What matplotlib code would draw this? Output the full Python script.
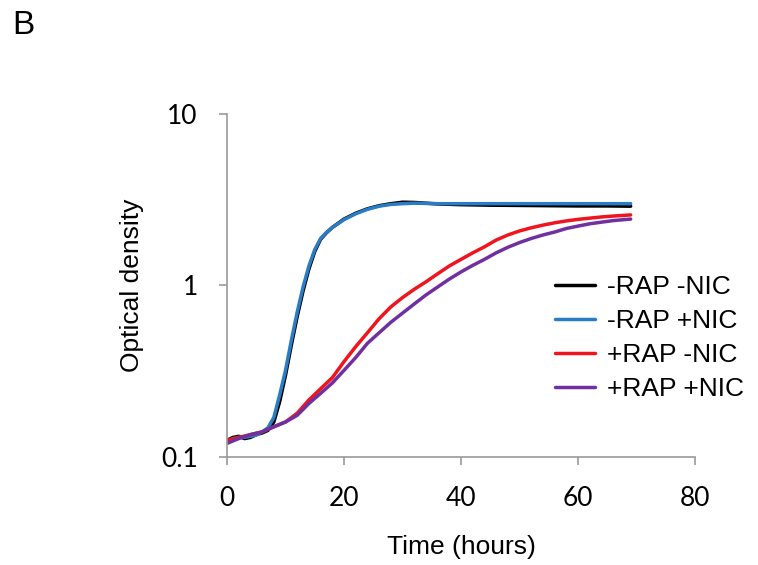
import matplotlib
matplotlib.use("Agg")
import matplotlib.pyplot as plt
from matplotlib.ticker import FixedLocator, NullLocator, FixedFormatter

# ---- data ----
t_fast = [0, 1, 2, 3, 4, 5, 6, 7, 8, 9, 10, 11, 12, 13, 14, 15, 16, 17, 18,
          20, 22, 24, 26, 28, 30, 32, 34, 36, 40, 45, 50, 55, 60, 65, 69]
od_rap_minus_nic_minus = [0.125, 0.13, 0.132, 0.128, 0.13, 0.135, 0.138, 0.143, 0.16, 0.21,
                          0.30, 0.45, 0.66, 0.93, 1.25, 1.58, 1.86, 2.03, 2.18,
                          2.44, 2.64, 2.8, 2.92, 3.0, 3.06, 3.05, 3.02, 2.99, 2.96,
                          2.94, 2.93, 2.92, 2.91, 2.91, 2.9]
od_rap_minus_nic_plus = [0.122, 0.128, 0.13, 0.13, 0.132, 0.134, 0.14, 0.148, 0.17, 0.23,
                         0.32, 0.48, 0.70, 0.98, 1.30, 1.62, 1.88, 2.04, 2.18,
                         2.42, 2.62, 2.78, 2.9, 2.97, 3.0, 3.02, 3.01, 3.0, 3.0,
                         3.0, 3.0, 3.0, 3.0, 3.0, 3.0]

t_slow = [0, 2, 4, 6, 8, 10, 12, 14, 16, 18, 20, 22, 24, 26, 28, 30, 32, 34,
          36, 38, 40, 42, 44, 46, 48, 50, 52, 54, 56, 58, 60, 62, 64, 66, 69]
od_rap_plus_nic_minus = [0.125, 0.13, 0.135, 0.14, 0.15, 0.16, 0.18, 0.215, 0.25, 0.29,
                         0.36, 0.44, 0.53, 0.64, 0.75, 0.85, 0.95, 1.05, 1.17, 1.3,
                         1.42, 1.55, 1.68, 1.84, 1.97, 2.08, 2.17, 2.25, 2.32, 2.38,
                         2.43, 2.47, 2.51, 2.54, 2.58]
od_rap_plus_nic_plus = [0.12, 0.128, 0.135, 0.14, 0.15, 0.16, 0.175, 0.205, 0.235, 0.27,
                        0.32, 0.38, 0.46, 0.53, 0.61, 0.69, 0.78, 0.88, 0.98, 1.09,
                        1.2, 1.31, 1.42, 1.55, 1.67, 1.78, 1.88, 1.97, 2.05, 2.15,
                        2.22, 2.29, 2.34, 2.39, 2.44]

labels = ["-RAP -NIC", "-RAP +NIC", "+RAP -NIC", "+RAP +NIC"]
colors = ["#000000", "#2a7dc4", "#f0141e", "#7030a0"]

x_ticks = [0, 20, 40, 60, 80]
y_ticks = [0.1, 1, 10]
y_tick_labels = ["0.1", "1", "10"]

fig = plt.figure(figsize=(7.58, 5.65), dpi=100)
ax = fig.add_axes([0.2995, 0.1912, 0.6174, 0.607])

series = [(t_fast, od_rap_minus_nic_minus), (t_fast, od_rap_minus_nic_plus),
          (t_slow, od_rap_plus_nic_minus), (t_slow, od_rap_plus_nic_plus)]
for (t, y), lab, c in zip(series, labels, colors):
    ax.plot(t, y, color=c, lw=2.5, label=lab, solid_capstyle="round")

ax.set_yscale("log")
ax.set_xlim(0, 80)
ax.set_ylim(0.1, 10)
ax.xaxis.set_major_locator(FixedLocator(x_ticks))
ax.yaxis.set_major_locator(FixedLocator(y_ticks))
ax.yaxis.set_major_formatter(FixedFormatter(y_tick_labels))
ax.yaxis.set_minor_locator(NullLocator())

for s in ["top", "right"]:
    ax.spines[s].set_visible(False)
for s in ["left", "bottom"]:
    ax.spines[s].set_color("#9a9a9a")
    ax.spines[s].set_linewidth(1.2)

ax.tick_params(axis="both", which="major", direction="out", length=6, width=1.2,
               color="#9a9a9a", labelsize=19, pad=15)
for lab in ax.get_xticklabels() + ax.get_yticklabels():
    lab.set_family("Lato")

ax.set_xlabel("Time (hours)", fontsize=19, family="Liberation Sans", labelpad=17)
ax.set_ylabel("Optical density", fontsize=19, family="Liberation Sans", labelpad=12)

leg = ax.legend(loc="upper left", bbox_to_anchor=(0.69, 0.545), frameon=False,
                prop={"family": "Liberation Sans", "size": 19},
                handlelength=1.5, handletextpad=0.45, labelspacing=0.38,
                borderpad=0.2, borderaxespad=0)

fig.text(0.016, 0.94, "B", fontsize=24, family="Liberation Sans")

fig.savefig("out.png", dpi=100)
